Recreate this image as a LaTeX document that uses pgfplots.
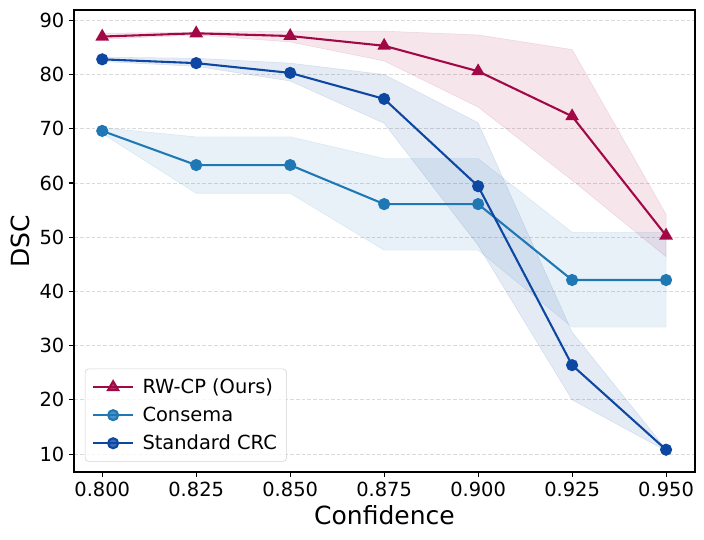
\documentclass[border=0pt]{standalone}
\usepackage{fontspec}
\setmainfont{DejaVu Sans}
\usepackage{pgfplots}
\pgfplotsset{compat=1.18}
\usepgfplotslibrary{fillbetween}
\usetikzlibrary{calc}

\definecolor{rwcp}{RGB}{163,8,70}
\definecolor{consema}{RGB}{31,119,180}
\definecolor{crc}{RGB}{13,71,161}
\definecolor{gridgray}{RGB}{218,218,218}

\begin{document}
\begin{tikzpicture}
\begin{axis}[
  scale only axis,
  width=447.1pt, height=332.6pt,
  xmin=0.7925, xmax=0.9577,
  ymin=6.7, ymax=91.9,
  xtick={0.8,0.825,0.85,0.875,0.9,0.925,0.95},
  ytick={10,20,30,40,50,60,70,80,90},
  xticklabel style={/pgf/number format/.cd, fixed, fixed zerofill, precision=3},
  /pgf/number format/assume math mode=true,
  tick label style={font=\fontsize{14}{16}\selectfont},
  label style={font=\fontsize{18}{21}\selectfont},
  xlabel={Confidence}, ylabel={DSC},
  tick align=outside, major tick length=3.5pt,
  xtick pos=bottom, ytick pos=left,
  axis line style={line width=0.8pt},
  every tick/.style={black, line width=0.8pt},
  ymajorgrids, grid style={gridgray, dash pattern=on 2.8pt off 1.4pt, line width=0.6pt},
  legend style={at={(0,0)}, anchor=south west, xshift=7.8pt, yshift=7.4pt,
    font=\fontsize{14}{16}\selectfont, draw=gray!35, rounded corners=2.5pt,
    fill=white, fill opacity=0.8, text opacity=1, row sep=4.2pt, column sep=4pt,
    inner xsep=5pt, inner ysep=5pt},
  legend cell align=left,
  legend image code/.code={
    \draw[#1] (0pt,0pt) -- (28.8pt,0pt);
    \draw[#1, only marks] plot coordinates {(14.4pt,0pt)};
  },
]

% bands
\addplot[draw=none, name path=rwU, forget plot] coordinates {
 (0.800,87.6) (0.825,87.8) (0.850,88.0) (0.875,88.0) (0.900,87.3) (0.925,84.6) (0.950,54.2)};
\addplot[draw=none, name path=rwL, forget plot] coordinates {
 (0.800,86.5) (0.825,87.3) (0.850,86.0) (0.875,82.5) (0.900,74.0) (0.925,60.5) (0.950,46.4)};
\addplot[fill=rwcp, fill opacity=0.1, draw=rwcp, draw opacity=0.12, forget plot] fill between[of=rwU and rwL];

\addplot[draw=none, name path=csU, forget plot] coordinates {
 (0.800,70.2) (0.825,68.5) (0.850,68.5) (0.875,64.5) (0.900,64.5) (0.925,50.9) (0.950,50.9)};
\addplot[draw=none, name path=csL, forget plot] coordinates {
 (0.800,69.1) (0.825,58.1) (0.850,58.1) (0.875,47.6) (0.900,47.6) (0.925,33.4) (0.950,33.4)};
\addplot[fill=consema, fill opacity=0.1, draw=consema, draw opacity=0.12, forget plot] fill between[of=csU and csL];

\addplot[draw=none, name path=crU, forget plot] coordinates {
 (0.800,83.2) (0.825,83.0) (0.850,82.1) (0.875,80.0) (0.900,71.1) (0.925,32.5) (0.950,10.9)};
\addplot[draw=none, name path=crL, forget plot] coordinates {
 (0.800,82.4) (0.825,81.5) (0.850,78.8) (0.875,71.0) (0.900,48.5) (0.925,20.0) (0.950,10.6)};
\addplot[fill=crc, fill opacity=0.11, draw=crc, draw opacity=0.12, forget plot] fill between[of=crU and crL];

% means
\addplot[color=rwcp, line width=1.5pt, mark=triangle*, mark size=4.2pt, mark options={draw=none, fill=rwcp}] coordinates {
 (0.800,87.0) (0.825,87.6) (0.850,87.1) (0.875,85.3) (0.900,80.6) (0.925,72.3) (0.950,50.3)};
\addplot[color=consema, line width=1.5pt, mark=*, mark size=3.6pt, mark options={draw=none, fill=consema}] coordinates {
 (0.800,69.6) (0.825,63.3) (0.850,63.3) (0.875,56.1) (0.900,56.1) (0.925,42.1) (0.950,42.1)};
\addplot[color=crc, line width=1.5pt, mark=*, mark size=3.6pt, mark options={draw=none, fill=crc}] coordinates {
 (0.800,82.8) (0.825,82.1) (0.850,80.3) (0.875,75.5) (0.900,59.4) (0.925,26.4) (0.950,10.8)};

\legend{RW-CP (Ours), Consema, Standard CRC}
\end{axis}
\pgfresetboundingbox
\path[use as bounding box] ($(current axis.south west)+(-53.3pt,-48.96pt)$) rectangle ($(current axis.north east)+(6.48pt,7.2pt)$);
\end{tikzpicture}
\end{document}
